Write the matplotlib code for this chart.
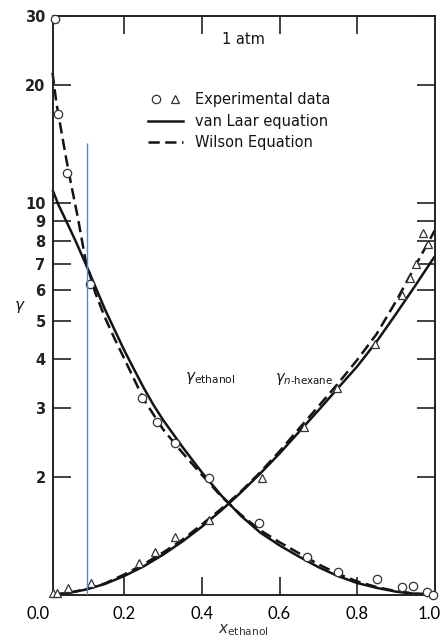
import matplotlib
matplotlib.use("Agg")
import matplotlib.pyplot as plt
from matplotlib.lines import Line2D
from matplotlib.legend_handler import HandlerTuple
from matplotlib.ticker import FixedLocator, FixedFormatter, NullLocator
from matplotlib.transforms import ScaledTranslation

# ---------------- data ----------------
# ethanol activity coefficient, van Laar (solid)
xe_vanlaar = [0.015, 0.03, 0.05, 0.075, 0.10, 0.125, 0.15, 0.175, 0.20, 0.225, 0.25,
              0.275, 0.30, 0.35, 0.40, 0.45, 0.50, 0.55, 0.60, 0.65, 0.70, 0.75,
              0.80, 0.85, 0.90, 0.95, 1.00]
ye_vanlaar = [10.8, 9.9, 9.0, 7.97, 7.0, 6.12, 5.35, 4.74, 4.2, 3.76, 3.37,
              3.05, 2.79, 2.38, 2.05, 1.79, 1.59, 1.44, 1.335, 1.25, 1.175, 1.115,
              1.07, 1.04, 1.017, 1.004, 1.0]
# ethanol, Wilson (dashed)
xe_wilson = [0.015, 0.025, 0.04, 0.05, 0.065, 0.08, 0.10, 0.125, 0.15, 0.175, 0.20,
             0.25, 0.30, 0.35, 0.40, 0.45, 0.50, 0.55, 0.60, 0.65, 0.70, 0.75,
             0.80, 0.85, 0.90, 0.95, 1.00]
ye_wilson = [21.5, 18.0, 14.8, 13.0, 10.9, 9.2, 7.15, 5.9, 5.1, 4.5, 4.0,
             3.15, 2.64, 2.30, 2.02, 1.78, 1.60, 1.46, 1.36, 1.275, 1.195, 1.13,
             1.08, 1.045, 1.02, 1.005, 1.0]
# n-hexane, van Laar (solid) and Wilson (dashed)
xh = [0.015, 0.05, 0.10, 0.15, 0.20, 0.25, 0.30, 0.35, 0.40, 0.45, 0.50,
      0.55, 0.60, 0.65, 0.70, 0.75, 0.80, 0.85, 0.90, 0.95, 1.00]
yh_vanlaar = [1.0, 1.007, 1.029, 1.064, 1.115, 1.18, 1.264, 1.366, 1.49, 1.64, 1.82,
              2.035, 2.29, 2.60, 2.95, 3.36, 3.82, 4.42, 5.2, 6.15, 7.3]
yh_wilson = [1.0, 1.007, 1.03, 1.067, 1.125, 1.195, 1.28, 1.38, 1.51, 1.655, 1.83,
             2.05, 2.32, 2.65, 3.02, 3.45, 3.97, 4.62, 5.6, 6.9, 8.5]
# experimental points
x_exp_ethanol = [0.022, 0.030, 0.052, 0.112, 0.245, 0.284, 0.330, 0.418, 0.547,
                 0.670, 0.752, 0.851, 0.915, 0.943, 0.979, 0.995]
y_exp_ethanol = [29.5, 16.9, 11.9, 6.22, 3.18, 2.76, 2.43, 1.98, 1.52,
                 1.25, 1.14, 1.095, 1.043, 1.053, 1.017, 1.0]
x_exp_hexane = [0.017, 0.026, 0.054, 0.114, 0.238, 0.279, 0.331, 0.418, 0.555,
                0.663, 0.747, 0.846, 0.915, 0.937, 0.952, 0.970, 0.983]
y_exp_hexane = [1.007, 1.01, 1.037, 1.07, 1.20, 1.285, 1.40, 1.55, 1.98,
                2.67, 3.36, 4.36, 5.81, 6.42, 7.0, 8.36, 7.86]
# axis ticks / labels
x_ticks = [0.0, 0.2, 0.4, 0.6, 0.8, 1.0]
x_ticklabels = ["0.0", "0.2", "0.4", "0.6", "0.8", "1.0"]
y_ticks = [2, 3, 4, 5, 6, 7, 8, 9, 10, 20, 30]
y_ticklabels = ["2", "3", "4", "5", "6", "7", "8", "9", "10", "20", "30"]
legend_labels = ["Experimental data", "van Laar equation", "Wilson Equation"]
marker_x = 0.104          # blue vertical guide line
marker_top = 14.2

# ---------------- figure ----------------
ink = "#141414"
fig = plt.figure(figsize=(4.41, 6.43), dpi=100)
ax = fig.add_axes([46.7 / 441, (643 - 594.5) / 643, 388 / 441, 578.5 / 643])
ax.set_yscale("log")
ax.set_xlim(0, 1)
ax.set_ylim(1, 30)

lw = 1.8
dash = (4.5, 2.2)
ax.plot(xe_vanlaar, ye_vanlaar, color=ink, lw=lw, solid_capstyle="butt")
ax.plot(xh, yh_vanlaar, color=ink, lw=lw, solid_capstyle="butt")
ax.plot(xe_wilson, ye_wilson, color=ink, lw=lw, dashes=dash)
ax.plot(xh, yh_wilson, color=ink, lw=lw, dashes=dash)
ax.plot(x_exp_ethanol, y_exp_ethanol, ls="none", marker="o", ms=6, mfc="white",
        mec="#333333", mew=0.9, clip_on=False, zorder=4)
ax.plot(x_exp_hexane, y_exp_hexane, ls="none", marker="^", ms=6, mfc="white",
        mec="#333333", mew=0.9, clip_on=False, zorder=4)
ax.vlines(marker_x, 1, marker_top, color="#5587d0", lw=1.0, zorder=5)

# spines
ax.spines["left"].set_position(("data", 0.015))
ax.spines["bottom"].set_bounds(0.015, 1.0)
ax.spines["top"].set_bounds(0.015, 1.0)
for s in ax.spines.values():
    s.set_linewidth(1.4)
    s.set_color("#222222")

# ticks
ax.yaxis.set_major_locator(FixedLocator(y_ticks))
ax.yaxis.set_major_formatter(FixedFormatter(y_ticklabels))
ax.yaxis.set_minor_locator(NullLocator())
ax.set_xticks(x_ticks)
ax.set_xticklabels(x_ticklabels)
ax.tick_params(axis="both", which="both", direction="in", length=13, width=1.2,
               color="#222222", top=True, right=True)
ax.tick_params(axis="y", pad=5, labelsize=10.5, labelcolor="#222222")
ax.tick_params(axis="x", pad=8, labelsize=12, labelcolor="black")
for lab in ax.get_yticklabels():
    lab.set_fontweight("bold")
for lab in ax.get_xticklabels():
    lab.set_family("Lato")
for t, loc in zip(ax.xaxis.get_major_ticks(), x_ticks):
    if loc in (0.0, 1.0):
        t.tick1line.set_visible(False)
        t.tick2line.set_visible(False)
    if loc == 0.0:
        t.label1.set_transform(t.label1.get_transform()
                               + ScaledTranslation(-9 / 100, 0, fig.dpi_scale_trans))
    if loc == 1.0:
        t.label1.set_transform(t.label1.get_transform()
                               + ScaledTranslation(-6 / 100, 0, fig.dpi_scale_trans))

# texts
ax.text(0.506, 0.960, "1 atm", transform=ax.transAxes, ha="center", va="center",
        fontsize=10.5, color=ink)
ax.text(0.356, 0.374, r"$\gamma_{\mathrm{ethanol}}$", transform=ax.transAxes,
        ha="left", va="center", fontsize=11, color=ink)
ax.text(0.588, 0.372, r"$\gamma_{n\mathrm{\text{-}hexane}}$", transform=ax.transAxes,
        ha="left", va="center", fontsize=10.5, color=ink)
fig.text(20 / 441, 1 - 307 / 643, r"$\gamma$", ha="center", va="center",
         fontsize=11, color=ink)
fig.text(243 / 441, 1 - 630 / 643, r"$x_{\mathrm{ethanol}}$", ha="center",
         va="center", fontsize=11, color="#333333")

# legend
h_circ = Line2D([], [], ls="none", marker="o", ms=6, mfc="white", mec="#333333", mew=0.9)
h_tri = Line2D([], [], ls="none", marker="^", ms=6, mfc="white", mec="#333333", mew=0.9)
h_vl = Line2D([], [], color=ink, lw=lw)
h_w = Line2D([], [], color=ink, lw=lw, dashes=dash)
ax.legend([(h_circ, h_tri), h_vl, h_w], legend_labels,
          handler_map={tuple: HandlerTuple(ndivide=None, pad=0.3)},
          loc="upper left", bbox_to_anchor=(0.261, 0.868), frameon=False,
          fontsize=10.5, handlelength=2.4, handletextpad=0.8, labelspacing=0.45,
          borderpad=0, borderaxespad=0, labelcolor=ink)

fig.savefig("out.png", dpi=100)
